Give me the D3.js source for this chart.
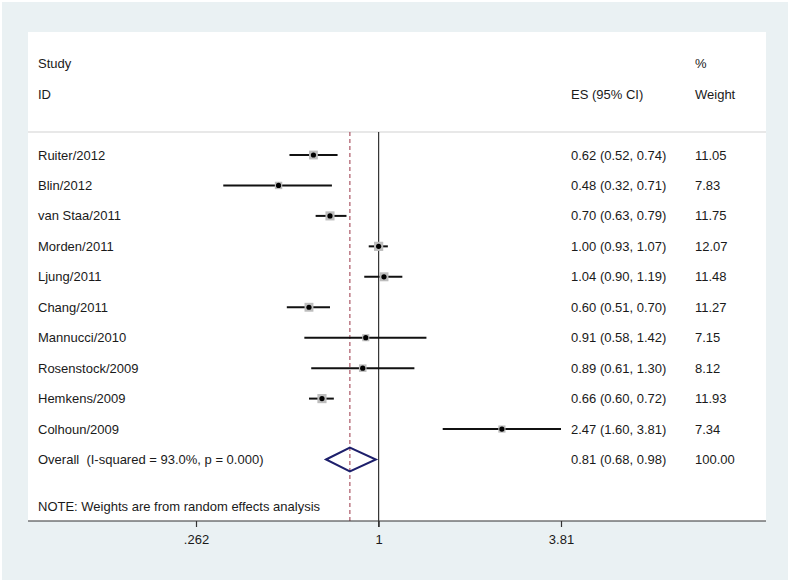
<!DOCTYPE html>
<html>
<head>
<meta charset="utf-8">
<script src="https://cdn.jsdelivr.net/npm/d3@7"></script>
<style>
  html, body { margin: 0; padding: 0; background: #ffffff; }
  svg { display: block; }
  text { font-family: "Liberation Sans", Arial, sans-serif; font-size: 13px; fill: #1a1a1a; white-space: pre; }
</style>
</head>
<body>
<svg id="chart" width="790" height="582"></svg>
<script>
const studies = ["Ruiter/2012", "Blin/2012", "van Staa/2011", "Morden/2011", "Ljung/2011",
                 "Chang/2011", "Mannucci/2010", "Rosenstock/2009", "Hemkens/2009", "Colhoun/2009"];
const es      = [0.62, 0.48, 0.70, 1.00, 1.04, 0.60, 0.91, 0.89, 0.66, 2.47];
const lower   = [0.52, 0.32, 0.63, 0.93, 0.90, 0.51, 0.58, 0.61, 0.60, 1.60];
const upper   = [0.74, 0.71, 0.79, 1.07, 1.19, 0.70, 1.42, 1.30, 0.72, 3.81];
const weights = [11.05, 7.83, 11.75, 12.07, 11.48, 11.27, 7.15, 8.12, 11.93, 7.34];
const overall = { label: "Overall  (I-squared = 93.0%, p = 0.000)", es: 0.81, lo: 0.68, hi: 0.98, weight: 100.00 };
const tickValues = [0.262, 1, 3.81];
const tickLabels = [".262", "1", "3.81"];
const note = "NOTE: Weights are from random effects analysis";

const svg = d3.select("#chart");
const W = 790, H = 582;

// outer background
svg.append("rect").attr("x", 0).attr("y", 0).attr("width", W).attr("height", H).attr("fill", "#ffffff");
svg.append("rect").attr("x", 2).attr("y", 2).attr("width", W - 4).attr("height", H - 4).attr("fill", "#eaf1f3");

const panel = { left: 28, right: 766, top: 32, bottom: 521 };
svg.append("rect").attr("x", panel.left).attr("y", panel.top)
  .attr("width", panel.right - panel.left).attr("height", panel.bottom - panel.top)
  .attr("fill", "#ffffff");

const x = d3.scaleLog().domain([0.262, 3.81]).range([196, 561]);

// row positions
const rowKeys = studies.concat(["__overall"]);
const y = d3.scalePoint().domain(rowKeys).range([155, 459.5]);

// header
const colLabelX = 38, colESX = 571, colWX = 695;
const headerSep = 132;
svg.append("line").attr("x1", panel.left).attr("x2", panel.right)
  .attr("y1", headerSep).attr("y2", headerSep)
  .attr("stroke", "#d2d2d2").attr("stroke-width", 1.2);

function txt(xp, yp, s, anchor) {
  return svg.append("text").attr("x", xp).attr("y", yp).attr("dy", "0.35em")
    .attr("xml:space", "preserve")
    .attr("text-anchor", anchor || "start").text(s);
}
txt(colLabelX, 63, "Study");
txt(colLabelX, 94, "ID");
txt(colESX, 94, "ES (95% CI)");
txt(colWX, 63, "%");
txt(colWX, 94, "Weight");

// reference lines
svg.append("line").attr("x1", x(1)).attr("x2", x(1))
  .attr("y1", headerSep).attr("y2", panel.bottom + 6)
  .attr("stroke", "#333333").attr("stroke-width", 1.2);
svg.append("line").attr("x1", x(overall.es)).attr("x2", x(overall.es))
  .attr("y1", headerSep).attr("y2", panel.bottom)
  .attr("stroke", "#9a3445").attr("stroke-width", 1).attr("stroke-dasharray", "4,3");

// study rows
const rows = studies.map((s, i) => ({ s, es: es[i], lo: lower[i], hi: upper[i], w: weights[i] }));
const g = svg.append("g");
rows.forEach(d => {
  const yy = y(d.s);
  g.append("line").attr("x1", x(d.lo)).attr("x2", x(d.hi)).attr("y1", yy).attr("y2", yy)
    .attr("stroke", "#111111").attr("stroke-width", 2);
  const side = 2.65 * Math.sqrt(d.w);
  g.append("rect").attr("x", x(d.es) - side / 2).attr("y", yy - side / 2)
    .attr("width", side).attr("height", side).attr("fill", "#bdbdbd");
  g.append("circle").attr("cx", x(d.es)).attr("cy", yy).attr("r", 2.6).attr("fill", "#000000");
  txt(colLabelX, yy, d.s);
  txt(colESX, yy, `${d.es.toFixed(2)} (${d.lo.toFixed(2)}, ${d.hi.toFixed(2)})`);
  txt(colWX, yy, d.w.toFixed(2));
});

// overall diamond
const yo = y("__overall");
const dh = 12;
svg.append("path")
  .attr("d", `M${x(overall.lo)},${yo} L${x(overall.es)},${yo - dh} L${x(overall.hi)},${yo} L${x(overall.es)},${yo + dh} Z`)
  .attr("fill", "none").attr("stroke", "#1d1f6b").attr("stroke-width", 2);
txt(colLabelX, yo, overall.label);
txt(colESX, yo, `${overall.es.toFixed(2)} (${overall.lo.toFixed(2)}, ${overall.hi.toFixed(2)})`);
txt(colWX, yo, overall.weight.toFixed(2));

// note
txt(colLabelX, 506, note);

// x axis
svg.append("line").attr("x1", panel.left).attr("x2", panel.right)
  .attr("y1", panel.bottom).attr("y2", panel.bottom)
  .attr("stroke", "#333333").attr("stroke-width", 1.2);
const axis = d3.axisBottom(x).tickValues(tickValues)
  .tickFormat((d, i) => tickLabels[i]).tickSize(6).tickSizeOuter(0);
const ax = svg.append("g").attr("transform", `translate(0,${panel.bottom})`).call(axis);
ax.select(".domain").remove();
ax.selectAll(".tick line").attr("stroke", "#333333").attr("stroke-width", 1.2);
ax.selectAll(".tick text").attr("dy", "0.71em").attr("y", 14)
  .style("font-family", '"Liberation Sans", Arial, sans-serif').style("font-size", "13px").attr("fill", "#1a1a1a");
</script>
</body>
</html>
